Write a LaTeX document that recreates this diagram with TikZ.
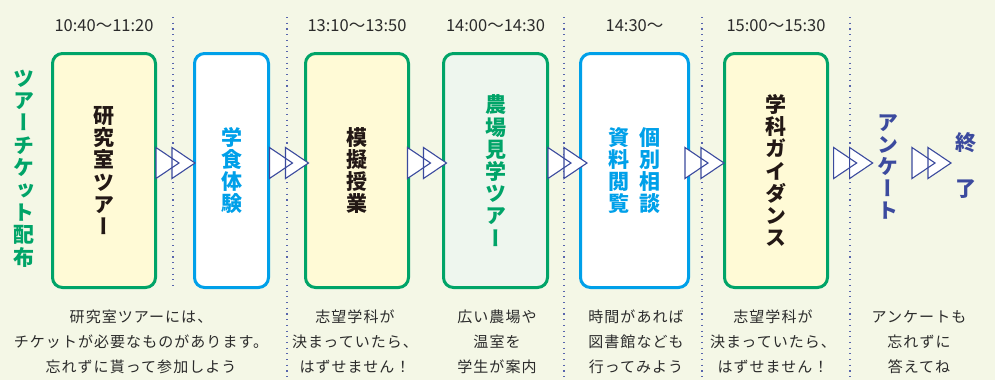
\documentclass[tikz,border=0pt]{standalone}
\usepackage{fontspec}
\setmainfont{Noto Sans CJK JP}
\newfontfamily\vjp[RawFeature=+vert]{Noto Sans CJK JP}
\usetikzlibrary{calc}
\definecolor{bg}{HTML}{F4F7E6}
\definecolor{bgreen}{HTML}{00A468}
\definecolor{bblue}{HTML}{00A0E9}
\definecolor{fyellow}{HTML}{FFFAD6}
\definecolor{fmint}{HTML}{EEF6EE}
\definecolor{navy}{HTML}{3B4A9E}
\definecolor{txt}{HTML}{2B2B2B}
\definecolor{ink}{HTML}{231815}
\tikzset{
  box/.style={draw, rounded corners=10pt, line width=3pt, minimum height=234pt,
    inner sep=0pt, align=center, font=\vjp\bfseries\fontsize{21}{22.2}\selectfont},
  gbox/.style={box, draw=bgreen},
  bbox/.style={box, draw=bblue, fill=white, text=bblue},
  vlabel/.style={inner sep=0pt, align=center, font=\vjp\bfseries\fontsize{21}{22.4}\selectfont},
  timelbl/.style={inner sep=0pt, text=txt, font=\fontsize{16.5}{18}\selectfont},
  note/.style={inner sep=0pt, anchor=north, align=center, text=txt,
    font=\fontsize{15}{25}\selectfont\addfontfeatures{LetterSpace=7}},
  dotline/.style={navy!85, line width=1.1pt, dash pattern=on 1.1pt off 4.6pt},
  chevs/.pic={
    \path[fill=white] (-19.5,-15.5) -- (3.5,0) -- (-19.5,15.5) -- cycle;
    \path[fill=white] (-3.5,-15.5) -- (19.5,0) -- (-3.5,15.5) -- cycle;
    \draw[navy, line width=1.1pt, line join=miter] (-19.5,-15.5) -- (3.5,0) -- (-19.5,15.5) -- cycle;
    \draw[navy, line width=1.1pt, line join=miter] (-3.5,-15.5) -- (19.5,0) -- (-3.5,15.5) -- cycle;
  }
}
\begin{document}
\begin{tikzpicture}[x=1pt,y=-1pt]
\fill[bg] (0,0) rectangle (995,380);
\useasboundingbox (0,0) rectangle (995,380);

% dotted separators
\draw[dotline] (173,17) -- (173,286);
\foreach \xx in {287,564,702,850}
  \draw[dotline] (\xx,17) -- (\xx,380);

% boxes
\node[gbox, fill=fyellow, text=ink, minimum width=103pt] (b1) at (104,170.5) {研\\究\\室\\ツ\\ア\\ー};
\node[bbox, minimum width=74pt] (b2) at (231.5,170.5) {学\\食\\体\\験};
\node[gbox, fill=fyellow, text=ink, minimum width=103pt] (b3) at (357,170.5) {模\\擬\\授\\業};
\node[gbox, fill=fmint, text=bgreen, minimum width=104pt] (b4) at (495.5,170.5) {農\\場\\見\\学\\ツ\\ア\\ー};
\node[bbox, minimum width=108pt] (b5) at (634.5,170.5) {資\hspace{11pt}個\\料\hspace{11pt}別\\閲\hspace{11pt}相\\覧\hspace{11pt}談};
\node[gbox, fill=fyellow, text=ink, minimum width=103pt] (b6) at (776,170.5) {学\\科\\ガ\\イ\\ダ\\ン\\ス};

% side labels
\node[vlabel, text=bgreen] (ticket) at (24,168.5) {ツ\\ア\\ー\\チ\\ケ\\ッ\\ト\\配\\布};
\node[vlabel, text=navy, font=\vjp\bfseries\fontsize{21}{22}\selectfont] (anq) at (888,167) {ア\\ン\\ケ\\ー\\ト};
\node[vlabel, text=navy, font=\vjp\bfseries\fontsize{21}{46}\selectfont] (fin) at (966,165.5) {終\\了};

% times
\node[timelbl] (t1) at (b1.center |- 0,26) {10:40〜11:20};
\node[timelbl] (t3) at (b3.center |- 0,26) {13:10〜13:50};
\node[timelbl] (t4) at (b4.center |- 0,26) {14:00〜14:30};
\node[timelbl] (t5) at (b5.center |- 0,26) {14:30〜};
\node[timelbl] (t6) at (b6.center |- 0,26) {15:00〜15:30};

% chevron connectors
\pic at ($(b1.east)!.5!(b2.west)+(0.5,-7.5)$) {chevs};
\pic at ($(b2.east)!.5!(b3.west)+(2,-7.5)$) {chevs};
\pic at ($(b3.east)!.5!(b4.west)+(1,-7.5)$) {chevs};
\pic at ($(b4.east)!.5!(b5.west)+(3.5,-7.5)$) {chevs};
\pic at ($(b5.east)!.5!(b6.west)+(-2,-7.5)$) {chevs};
\pic at ($(b6.east |- 0,163)!.5!(anq.west |- 0,163)$) {chevs};
\pic at ($(anq.east |- 0,163)!.5!(fin.west |- 0,163)+(4.5,0)$) {chevs};

% notes
\node[note] (n1) at (141,310) {研究室ツアーには、\\チケットが必要なものがあります。\\忘れずに貰って参加しよう};
\node[note] (n2) at (355,310) {志望学科が\\決まっていたら、\\はずせません！};
\node[note] (n3) at (497,310) {広い農場や\\温室を\\学生が案内};
\node[note] (n4) at (636,310) {時間があれば\\図書館なども\\行ってみよう};
\node[note] (n5) at (773,310) {志望学科が\\決まっていたら、\\はずせません！};
\node[note] (n6) at (919,310) {アンケートも\\忘れずに\\答えてね};
\end{tikzpicture}
\end{document}
